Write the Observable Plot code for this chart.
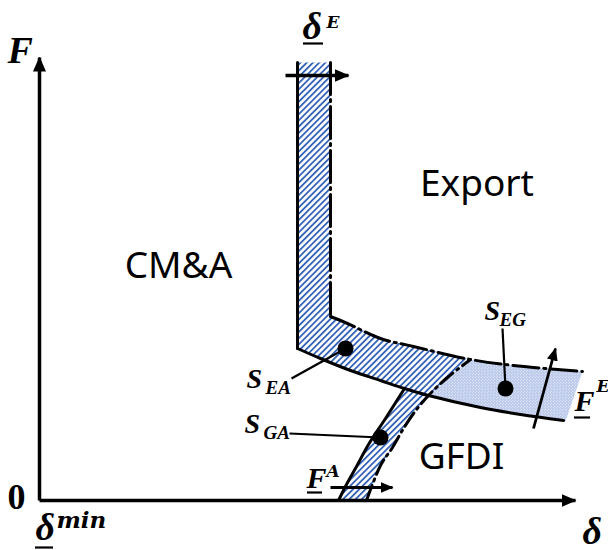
<!DOCTYPE html>
<html><head><meta charset="utf-8">
<script src="https://cdn.jsdelivr.net/npm/d3@7"></script>
<script src="https://cdn.jsdelivr.net/npm/@observablehq/plot@0.6"></script>
<style>body{margin:0;background:#fff}</style>
</head><body><div id="chart"></div>
<script>
// ---- diagram geometry (δ on x, F on y; arbitrary units, 0 = δmin / F = 0) ----
const bandLeftEdge  = [[51.6,87.6],[51.6,30.4]];
const bandRightEdge = [[58.2,87.6],[58.2,36.8]];
const lowerBoundary = [[51.6,30.4],[56.2,28.4],[62.2,26],[68.2,24],[73,22.4],[77.8,21],[88.2,18.6],[96.2,17.2],[104.8,16]];
const upperBoundary = [[58.2,36.8],[61.6,35.4],[68.2,32.4],[74.8,30.8],[86.2,28.2],[94.8,27],[108.6,25.8]];
const gfdiLeftEdge  = [[59.8,0],[61.4,3.2],[63.4,6.8],[65.8,11.2],[69.2,16.4],[73,22.4]];
const gfdiRightEdge = [[65.4,0],[68.2,7],[70.6,10.6],[72.8,14.4],[74.8,17.4],[77.8,21],[81.6,24.6],[86.2,28.2]];
const dottedEnd     = [[108.6,25.8],[105.2,15.8]];

const axisLines   = [{x1:0,y1:0,x2:107.2,y2:0},{x1:0,y1:0,x2:0,y2:88.6}];
const shiftArrowBig   = [{x1:49.2,y1:85,x2:61.8,y2:85}];
const shiftArrowsSmall = [{x1:98.8,y1:14.4,x2:103.2,y2:30.4},{x1:58.2,y1:2.6,x2:70.6,y2:2.6}];

const points  = [{name:"S_EA",x:61.2,y:30.4},{name:"S_GA",x:68.2,y:12.6},{name:"S_EG",x:93.2,y:22.4}];
const leaders = [{x1:50.4,y1:24.4,x2:61.2,y2:30.4},{x1:50,y1:13.4,x2:68.2,y2:12.6},{x1:92.6,y1:34.4,x2:93.2,y2:22.4}];

const regionLabels = [{text:"CM&A",x:27.8,y:44.6},{text:"Export",x:87.5,y:61},{text:"GFDI",x:84.4,y:6.4}];
const bigSymbols   = [{text:"δ",x:-0.8,y:-7.8},{text:"δ",x:108.6,y:-8.6},{text:"δ",x:52.6,y:92.4}];
const axisF        = [{text:"F",x:-6.4,y:87.6}];
const midSymbols   = [{text:"F",x:107,y:18},{text:"F",x:53.4,y:2.6}];
const sSymbols     = [{text:"S",x:41.4,y:22.6},{text:"S",x:41,y:13.6},{text:"S",x:89,y:36.2}];
const minLabel     = [{text:"min",x:3.4,y:-5.4}];
const superscripts = [{text:"E",x:57.4,y:94.6},{text:"E",x:111.4,y:21.8},{text:"A",x:57.4,y:4.8}];
const subscripts   = [{text:"EA",x:45.2,y:21.4},{text:"GA",x:44.8,y:12.4},{text:"EG",x:92,y:35}];
const zeroLabel    = [{text:"0",x:-6.4,y:-1.6}];
const underlines   = [{y:91.4,x1:52.8,x2:56.8},{y:-9.4,x1:-0.8,x2:2.8},{y:16.6,x1:107,x2:110.2},{y:1.6,x1:53.6,x2:56.6}];

// ---- build polygons from the edges ----
const hatchPolygon = [
  ...bandLeftEdge,
  ...lowerBoundary.slice(1,5),
  ...gfdiLeftEdge.slice(0,-1).reverse(),
  ...gfdiRightEdge,
  ...upperBoundary.slice(0,4).reverse(),
  ...bandRightEdge.slice().reverse()
];
const dottedPolygon = [
  ...upperBoundary.slice(4),
  ...dottedEnd.slice(1),
  ...lowerBoundary.slice(5).reverse(),
  ...gfdiRightEdge.slice(5)
];
const P = a => a.map(([x,y]) => ({x,y}));

const mathFont = "'Liberation Serif', 'DejaVu Serif', serif";
const sansFont = "'Noto Sans', 'Liberation Sans', sans-serif";
const T = (size, extra = {}) => ({x:"x", y:"y", text:"text", fontFamily:mathFont, fontSize:size, fontStyle:"italic", fontWeight:"bold", textAnchor:"start", lineAnchor:"bottom", fill:"black", ...extra});

const svg = Plot.plot({
  width: 608, height: 550, margin: 0,
  x: {domain:[0,100], range:[39,539], axis:null},
  y: {domain:[0,100], range:[500,0], axis:null},
  style: {background:"white"},
  marks: [
    Plot.line(P(hatchPolygon), {x:"x", y:"y", fill:"url(#hatch)", stroke:"none"}),
    Plot.line(P(dottedPolygon), {x:"x", y:"y", fill:"url(#dots)", stroke:"none"}),
    Plot.link(axisLines, {x1:"x1",y1:"y1",x2:"x2",y2:"y2", stroke:"black", strokeWidth:3.5, ariaDescription:"arrowL"}),
    Plot.line(P(bandLeftEdge), {x:"x", y:"y", stroke:"black", strokeWidth:3}),
    Plot.line(P(lowerBoundary), {x:"x", y:"y", stroke:"black", strokeWidth:3, curve:"catmull-rom"}),
    Plot.line(P(gfdiLeftEdge), {x:"x", y:"y", stroke:"black", strokeWidth:3, curve:"catmull-rom"}),
    Plot.line(P(bandRightEdge), {x:"x", y:"y", stroke:"black", strokeWidth:3, strokeDasharray:"32,5,2,5"}),
    Plot.line(P(upperBoundary), {x:"x", y:"y", stroke:"black", strokeWidth:3, strokeDasharray:"26,5,2,5", curve:"catmull-rom"}),
    Plot.line(P(gfdiRightEdge), {x:"x", y:"y", stroke:"black", strokeWidth:3, strokeDasharray:"16,5,2,5", curve:"catmull-rom"}),
    Plot.link(shiftArrowBig, {x1:"x1",y1:"y1",x2:"x2",y2:"y2", stroke:"black", strokeWidth:3.5, ariaDescription:"arrowL"}),
    Plot.link(shiftArrowsSmall, {x1:"x1",y1:"y1",x2:"x2",y2:"y2", stroke:"black", strokeWidth:2.8, ariaDescription:"arrowS"}),
    Plot.link(leaders, {x1:"x1",y1:"y1",x2:"x2",y2:"y2", stroke:"black", strokeWidth:2.2}),
    Plot.dot(points, {x:"x", y:"y", r:8, fill:"black", stroke:"none"}),
    Plot.ruleY(underlines, {y:"y", x1:"x1", x2:"x2", stroke:"black", strokeWidth:2.2}),
    Plot.text(regionLabels, {x:"x", y:"y", text:"text", fontFamily:sansFont, fontSize:37, textAnchor:"middle", lineAnchor:"bottom", fill:"black"}),
    Plot.text(bigSymbols, T(38)),
    Plot.text(axisF, T(38)),
    Plot.text(midSymbols, T(30)),
    Plot.text(sSymbols, T(28)),
    Plot.text(minLabel, T(23, {fontFamily:"'DejaVu Serif', serif"})),
    Plot.text(superscripts, T(17, {fontFamily:"'DejaVu Serif', serif"})),
    Plot.text(subscripts, T(19)),
    Plot.text(zeroLabel, T(36, {fontStyle:"normal"}))
  ]
});

// patterns and arrowheads
const s = d3.select(svg);
const defs = s.insert("defs", ":first-child");
const hp = defs.append("pattern").attr("id","hatch").attr("patternUnits","userSpaceOnUse")
  .attr("width",4.4).attr("height",4.4).attr("patternTransform","rotate(45)");
hp.append("rect").attr("width",4.4).attr("height",4.4).attr("fill","white");
hp.append("rect").attr("width",1.8).attr("height",4.4).attr("fill","#3463b9");
const dp = defs.append("pattern").attr("id","dots").attr("patternUnits","userSpaceOnUse")
  .attr("width",3).attr("height",3);
dp.append("rect").attr("width",3).attr("height",3).attr("fill","white");
dp.append("circle").attr("cx",0.75).attr("cy",0.75).attr("r",0.7).attr("fill","#4a70c8");
dp.append("circle").attr("cx",2.25).attr("cy",2.25).attr("r",0.7).attr("fill","#4a70c8");
function marker(id, len, wid) {
  defs.append("marker").attr("id",id).attr("viewBox",`0 0 ${len} ${wid}`)
    .attr("refX",len-1).attr("refY",wid/2).attr("markerWidth",len).attr("markerHeight",wid)
    .attr("markerUnits","userSpaceOnUse").attr("orient","auto")
    .append("path").attr("d",`M0,0L${len},${wid/2}L0,${wid}Z`).attr("fill","black");
}
marker("headL", 15, 13);
marker("headS", 13, 11);
s.selectAll('g[aria-description="arrowL"] path').attr("marker-end","url(#headL)");
s.selectAll('g[aria-description="arrowS"] path').attr("marker-end","url(#headS)");

document.getElementById("chart").appendChild(svg);
</script>
</body></html>
